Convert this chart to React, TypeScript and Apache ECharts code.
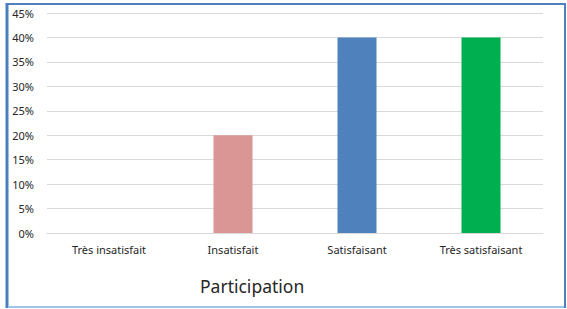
import React, { useEffect, useRef } from "react";
import * as echarts from "echarts";

const categories = ["Très insatisfait", "Insatisfait", "Satisfaisant", "Très satisfaisant"];
const values = [0, 20, 40, 40];
const barColors = ["#D99694", "#D99694", "#4F81BD", "#00B050"];
const yTicks = [0, 5, 10, 15, 20, 25, 30, 35, 40, 45];
const title = "Participation";

export default function App() {
  const ref = useRef<HTMLDivElement>(null);
  useEffect(() => {
    if (!ref.current) return;
    const chart = echarts.init(ref.current, undefined, { renderer: "svg" });
    const font = "'Noto Sans', 'Open Sans', sans-serif";
    chart.setOption({
      animation: false,
      backgroundColor: "#ffffff",
      grid: { left: 47, right: 24, top: 13, bottom: 76, containLabel: false },
      xAxis: {
        type: "category",
        data: categories,
        axisLine: { show: true, lineStyle: { color: "#d9d9d9", width: 1 } },
        axisTick: { show: false },
        axisLabel: { color: "#262626", fontSize: 11, fontFamily: font, margin: 11 },
      },
      yAxis: {
        type: "value",
        min: yTicks[0],
        max: yTicks[yTicks.length - 1],
        interval: 5,
        axisLine: { show: false },
        axisTick: { show: false },
        splitLine: { lineStyle: { color: "#d9d9d9", width: 1 } },
        axisLabel: { formatter: "{value}%", color: "#262626", fontSize: 11, fontFamily: font, margin: 13 },
      },
      series: [
        {
          type: "bar",
          barWidth: 39,
          data: values.map((v, i) => ({ value: v, itemStyle: { color: barColors[i] } })),
        },
      ],
      graphic: [
        {
          type: "text",
          left: 200,
          top: 277,
          style: { text: title, fill: "#262626", fontSize: 17.5, fontFamily: font },
        },
        {
          type: "rect",
          shape: { x: 7, y: 4, width: 558, height: 303 },
          style: { fill: "none", stroke: "#4F81BD", lineWidth: 2 },
          z: 100,
        },
        {
          type: "line",
          shape: { x1: 7, y1: 3, x2: 7, y2: 308 },
          style: { stroke: "#4A7EBF", lineWidth: 3 },
          z: 101,
        },
        {
          type: "line",
          shape: { x1: 8, y1: 307, x2: 564, y2: 307 },
          style: { stroke: "#9DC3E6", lineWidth: 2 },
          z: 101,
        },
      ],
    });
    return () => chart.dispose();
  }, []);
  return <div ref={ref} style={{ position: "absolute", left: 0, top: 0, width: 567, height: 309 }} />;
}
